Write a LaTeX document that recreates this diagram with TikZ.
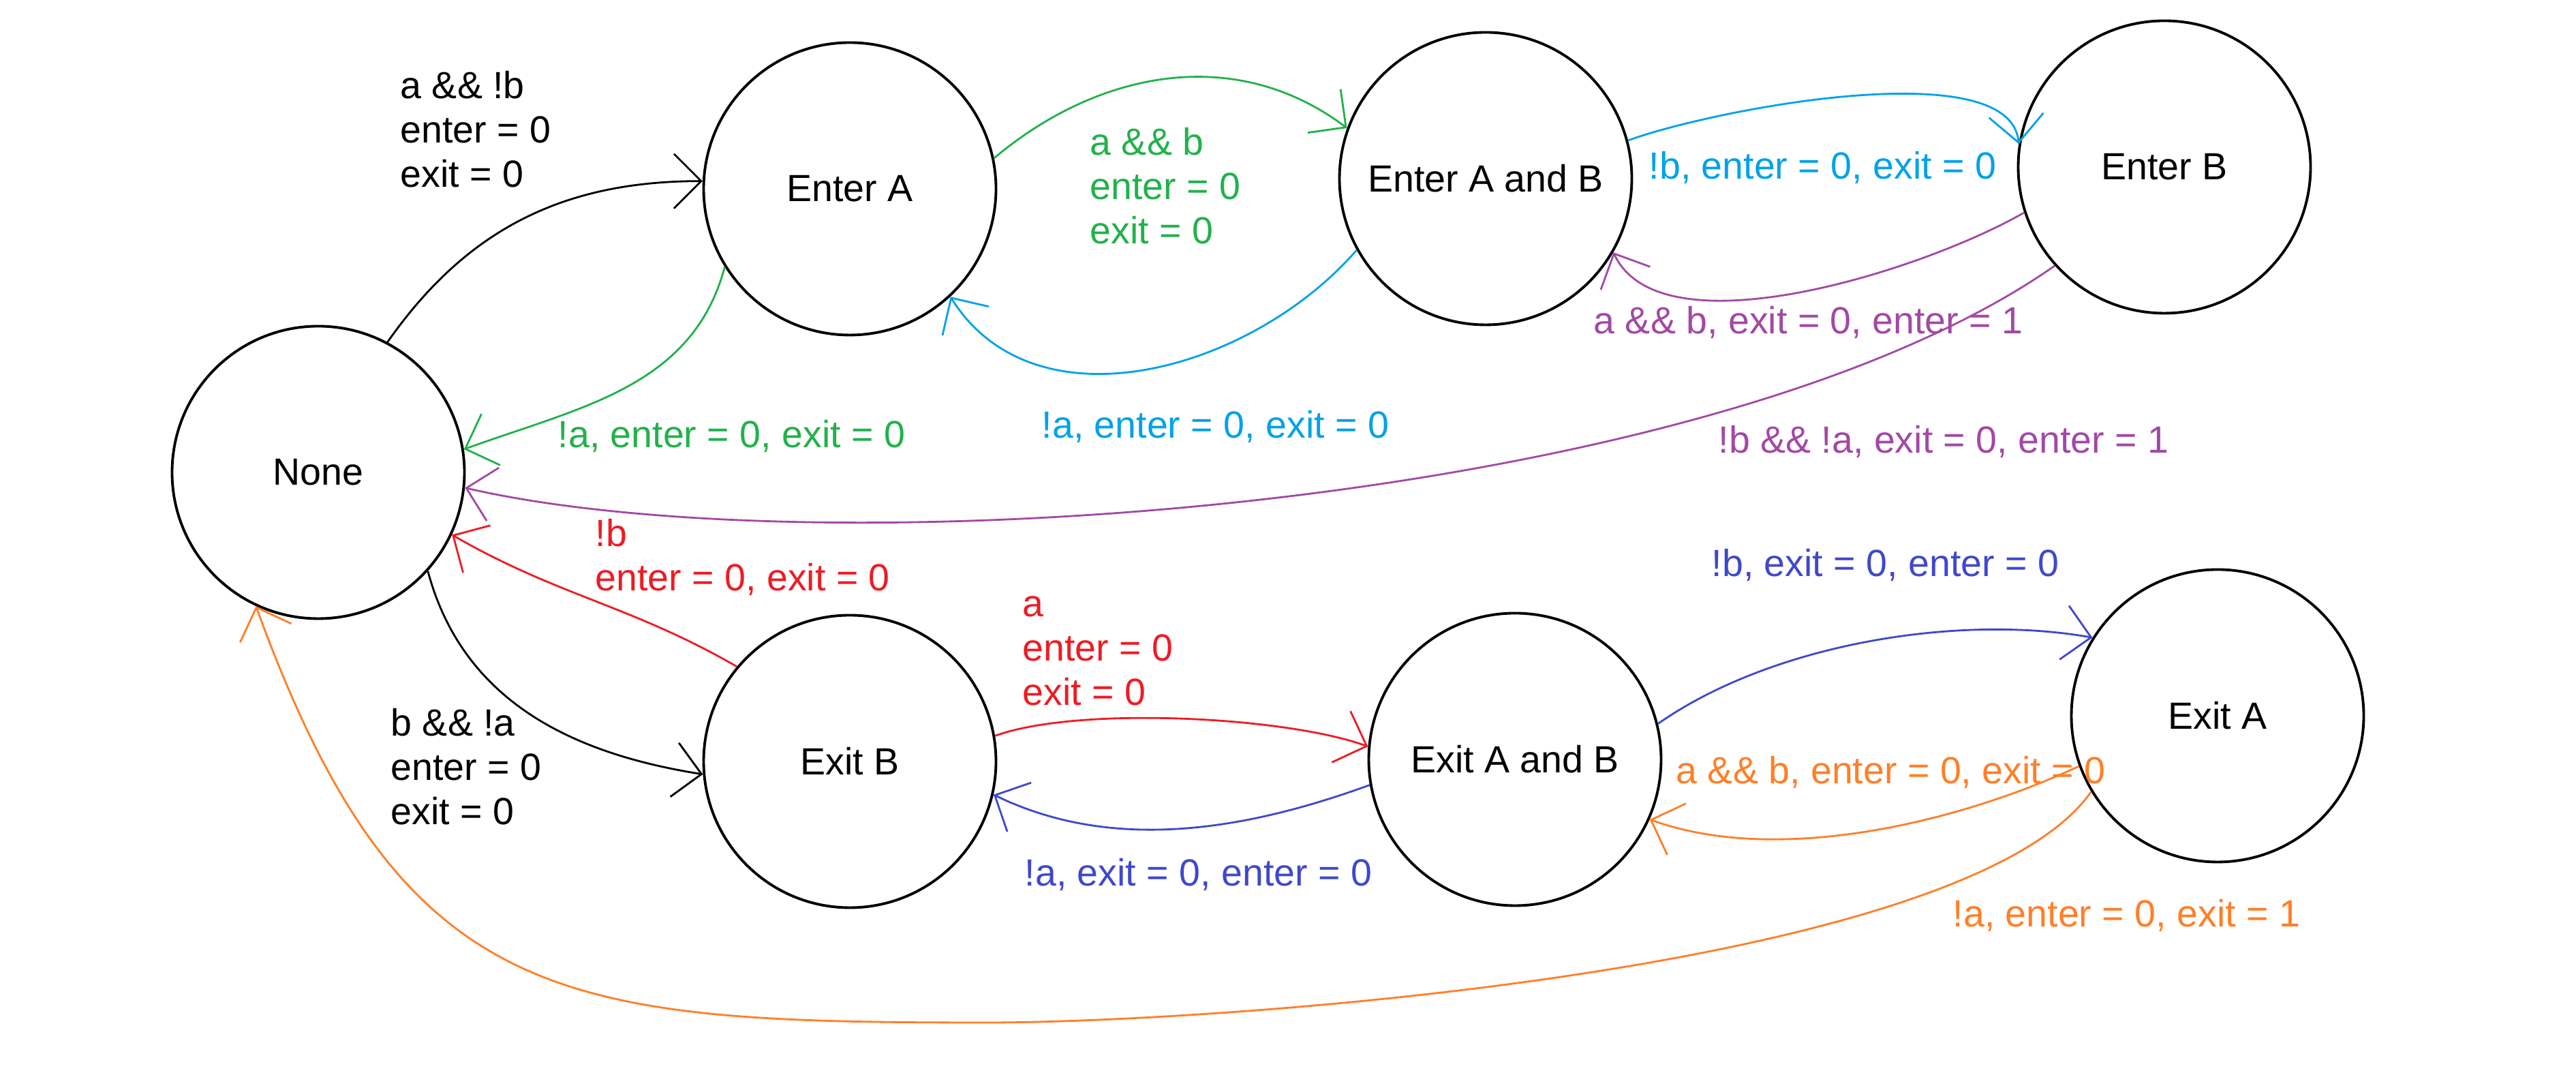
\documentclass[tikz,border=0pt]{standalone}
\usepackage{fontspec}
\setmainfont{Liberation Sans}
\usepackage{xcolor}
\usepackage{tikz}
\usetikzlibrary{arrows.meta,positioning}

\definecolor{pgreen}{HTML}{22B14C}
\definecolor{pcyan}{HTML}{00A2E8}
\definecolor{ppurple}{HTML}{A349A4}
\definecolor{pred}{HTML}{ED1C24}
\definecolor{pblue}{HTML}{3F48CC}
\definecolor{porange}{HTML}{FF7F27}

\begin{document}
\begin{tikzpicture}[
  state/.style={draw, circle, line width=1.1pt, minimum size=4.29cm, inner sep=2pt,
                font=\fontsize{15.8}{18.5}\selectfont},
  trans/.style={-{Straight Barb[length=4mm,width=8mm]}, line width=0.8pt},
  lbl/.style={anchor=base west, align=left, inner sep=0pt,
              font=\fontsize{15.8}{18.5}\selectfont}
]
\useasboundingbox (0,0) rectangle (37.8,15.74);

% states
\node[state] (none) at (4.67,8.81) {None};
\node[state] (entA) at (12.47,12.97) {Enter A};
\node[state] (entAB) at (21.80,13.12) {Enter A and B};
\node[state] (entB) at (31.76,13.29) {Enter B};
\node[state] (exB) at (12.47,4.57) {Exit B};
\node[state] (exAB) at (22.23,4.60) {Exit A and B};
\node[state] (exA) at (32.54,5.24) {Exit A};
\coordinate (lowturn) at (14.5,0.74);

% entering
\draw[trans] (none.62) to[out=55, in=180] (entA.177);
\draw[trans, pgreen] (entA.212) to[out=255, in=20] (none.9);
\draw[trans, pgreen] (entA.12) to[out=40, in=143] (entAB.160);
\draw[trans, pcyan] (entAB.209) to[out=229, in=-58] (entA.313);
\draw[trans, pcyan] (entAB.15) to[out=20, in=95, looseness=0.6] (entB.171);
\draw[trans, ppurple] (entB.198) to[out=210, in=-65, looseness=0.7] (entAB.330);
\draw[trans, ppurple] (entB.222) .. controls +(215:6.3) and +(-13:5.3) .. (none.354);

% exiting
\draw[trans, pred] (exB.140) to[out=150, in=-30] (none.335);
\draw[trans] (none.318) to[out=-75, in=171] (exB.185);
\draw[trans, pred] (exB.10) to[out=20, in=160, looseness=0.6] (exAB.175);
\draw[trans, pblue] (exAB.190) to[out=200, in=-26, looseness=0.9] (exB.347);
\draw[trans, pblue] (exAB.14) to[out=35, in=170, looseness=0.8] (exA.148);
\draw[trans, porange] (exA.200) to[out=205, in=-20, looseness=0.8] (exAB.336);
\draw[trans, porange] (exA.211) to[out=235, in=0, looseness=0.5] (lowturn)
  to[out=180, in=290, looseness=1.3] (none.245);

% guards (base = last line)
\node[lbl] (lbNoneEntA) at (5.87,12.99) {a \&\& !b\\enter = 0\\exit = 0};
\node[lbl, text=pgreen] (lbEntANone) at (8.18,9.17) {!a, enter = 0, exit = 0};
\node[lbl, text=pgreen] (lbEntAEntAB) at (15.99,12.16) {a \&\& b\\enter = 0\\exit = 0};
\node[lbl, text=pcyan] (lbEntABEntA) at (15.28,9.31) {!a, enter = 0, exit = 0};
\node[lbl, text=pcyan] (lbEntABEntB) at (24.19,13.11) {!b, enter = 0, exit = 0};
\node[lbl, text=ppurple] (lbEntBEntAB) at (23.38,10.84) {a \&\& b, exit = 0, enter = 1};
\node[lbl, text=ppurple] (lbEntBNone) at (25.21,9.09) {!b \&\& !a, exit = 0, enter = 1};
\node[lbl, text=pred] (lbExBNone) at (8.73,7.07) {!b\\enter = 0, exit = 0};
\node[lbl] (lbNoneExB) at (5.73,3.64) {b \&\& !a\\enter = 0\\exit = 0};
\node[lbl, text=pred] (lbExBExAB) at (15.00,5.39) {a\\enter = 0\\exit = 0};
\node[lbl, text=pblue] (lbExABExB) at (15.03,2.74) {!a, exit = 0, enter = 0};
\node[lbl, text=pblue] (lbExABExA) at (25.11,7.28) {!b, exit = 0, enter = 0};
\node[lbl, text=porange] (lbExAExAB) at (24.59,4.24) {a \&\& b, enter = 0, exit = 0};
\node[lbl, text=porange] (lbExANone) at (28.65,2.14) {!a, enter = 0, exit = 1};
\end{tikzpicture}
\end{document}
